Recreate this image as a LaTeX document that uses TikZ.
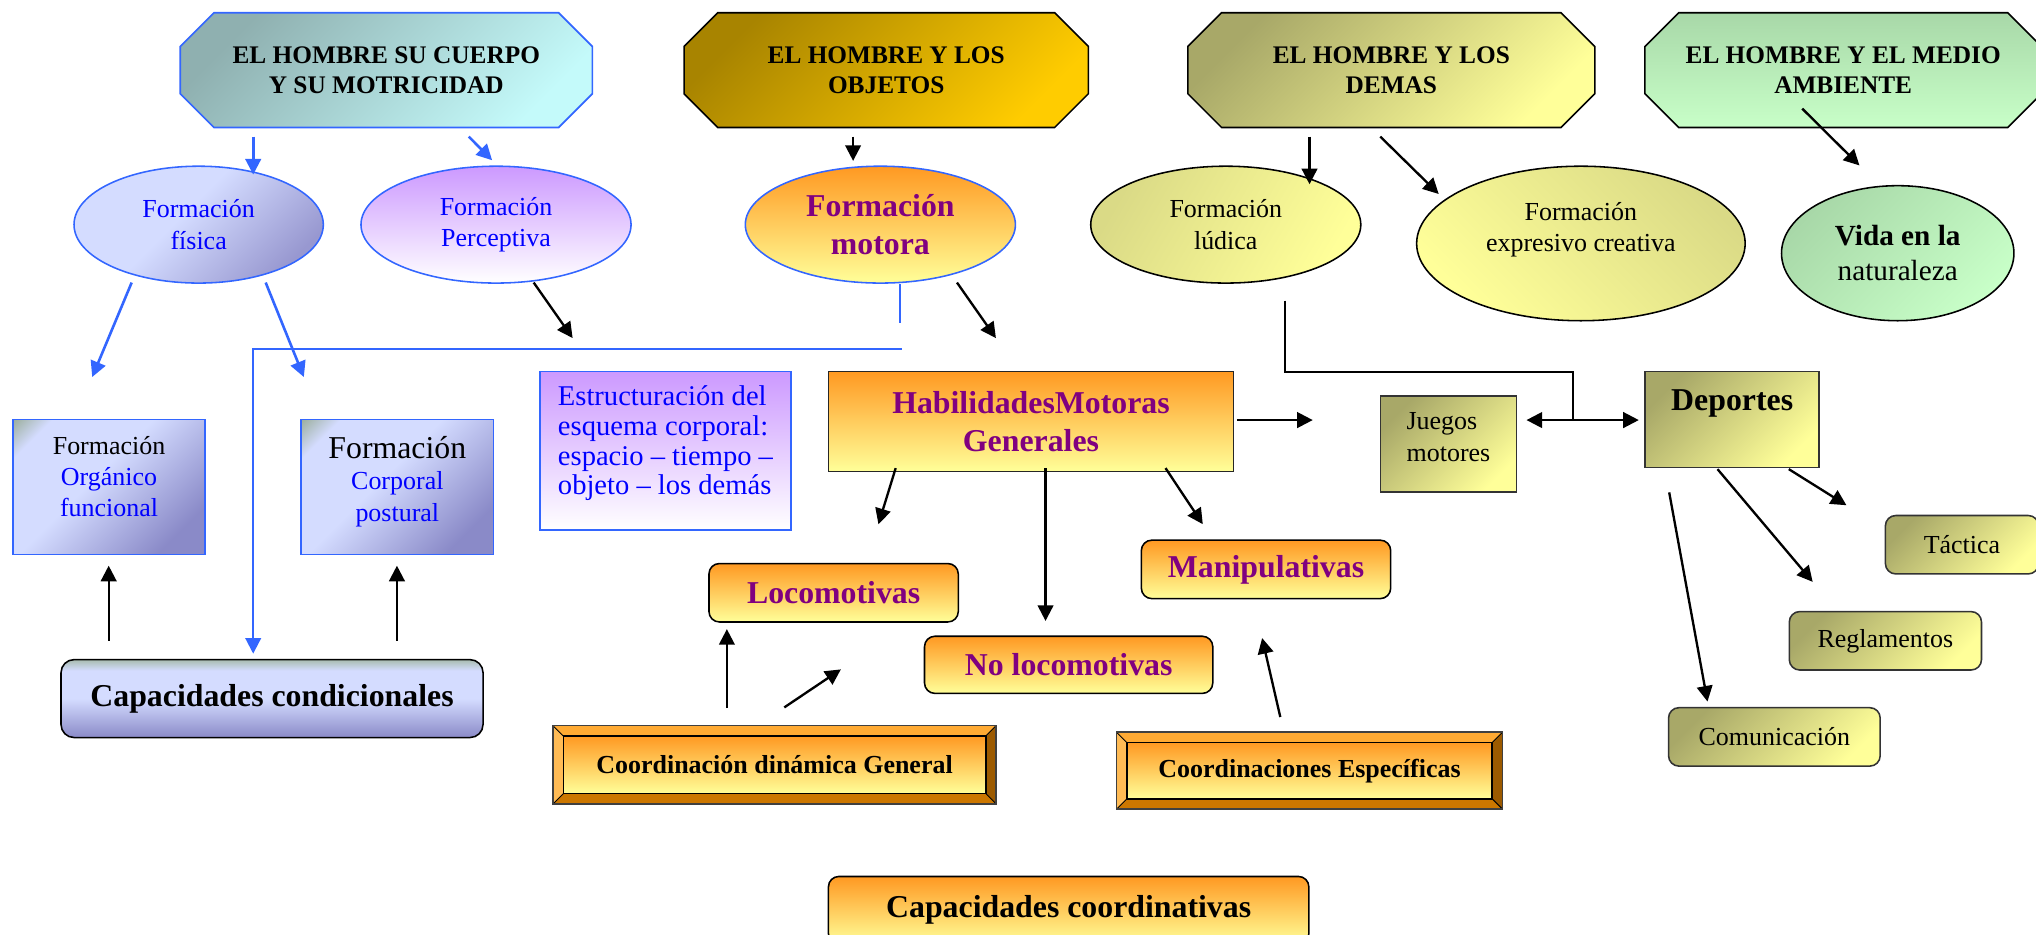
\documentclass[tikz,border=0pt]{standalone}
\usepackage{fontspec}
\setmainfont{Liberation Serif}
\usetikzlibrary{shapes.geometric,arrows.meta,calc,backgrounds}

\definecolor{bord}{HTML}{3366FF}
\definecolor{purp}{HTML}{800080}
\definecolor{txtblue}{HTML}{0000FF}
\definecolor{orA}{HTML}{FF9922}
\definecolor{orB}{HTML}{FFFF99}
\definecolor{olA}{HTML}{A8A868}
\definecolor{olB}{HTML}{FFFF99}
\definecolor{olC}{HTML}{DADA86}
\definecolor{cyA}{HTML}{8FB0B0}
\definecolor{cyB}{HTML}{C4FAFA}
\definecolor{goA}{HTML}{A88400}
\definecolor{goB}{HTML}{FFCC00}
\definecolor{grA}{HTML}{A8D8A8}
\definecolor{grB}{HTML}{C8FFC8}
\definecolor{blA}{HTML}{D4DCFF}
\definecolor{blB}{HTML}{8A8AC8}
\definecolor{blC}{HTML}{98AC98}
\definecolor{ccTop}{HTML}{A8BCB0}
\definecolor{fisB}{HTML}{9898D0}
\definecolor{viA}{HTML}{CC99FF}
\definecolor{bvtop}{HTML}{FFAA33}
\definecolor{bvleft}{HTML}{FFBB55}
\definecolor{bvright}{HTML}{9C5A00}
\definecolor{bvbot}{HTML}{CC7700}

\pgfdeclareverticalshading{blueboxsh}{100bp}{color(0bp)=(blB); color(25bp)=(blB); color(55bp)=(blA); color(77bp)=(blA); color(86bp)=(blC); color(100bp)=(blC)}
\pgfdeclareverticalshading{ccondsh}{100bp}{color(0bp)=(blB); color(25bp)=(blB); color(50bp)=(blA); color(68bp)=(blA); color(75bp)=(ccTop); color(100bp)=(ccTop)}
\pgfdeclareverticalshading{fissh}{100bp}{color(0bp)=(fisB); color(25bp)=(fisB); color(55bp)=(blA); color(100bp)=(blA)}

\newcommand{\ftReg}{\fontsize{20}{24}\selectfont}
\newcommand{\ftBig}{\bfseries\fontsize{24.5}{29.5}\selectfont}
\newcommand{\ftHdr}{\bfseries\fontsize{19.5}{23}\selectfont}
\newcommand{\ftEst}{\fontsize{22}{23}\selectfont}
\newcommand{\ftMidB}{\bfseries\fontsize{20}{24}\selectfont}
\newcommand{\ftVida}{\fontsize{22.5}{27}\selectfont}

\newcommand{\octpath}[2]{%
  \path[#2] ([xshift=26pt]#1.north west) -- ([xshift=-26pt]#1.north east) -- ([yshift=-26pt]#1.north east) -- ([yshift=26pt]#1.south east) -- ([xshift=-26pt]#1.south east) -- ([xshift=26pt]#1.south west) -- ([yshift=26pt]#1.south west) -- ([yshift=-26pt]#1.north west) -- cycle;}

\newcommand{\bevelbox}[1]{%
  \fill[bvtop] (#1.north west) -- (#1.north east) -- ([shift={(-8pt,-8pt)}]#1.north east) -- ([shift={(8pt,-8pt)}]#1.north west) -- cycle;
  \fill[bvleft] (#1.north west) -- ([shift={(8pt,-8pt)}]#1.north west) -- ([shift={(8pt,8pt)}]#1.south west) -- (#1.south west) -- cycle;
  \fill[bvright] (#1.north east) -- (#1.south east) -- ([shift={(-8pt,8pt)}]#1.south east) -- ([shift={(-8pt,-8pt)}]#1.north east) -- cycle;
  \fill[bvbot] (#1.south west) -- (#1.south east) -- ([shift={(-8pt,8pt)}]#1.south east) -- ([shift={(8pt,8pt)}]#1.south west) -- cycle;
  \shade[top color=orA, bottom color=orB, draw=black, line width=1.2pt] ([shift={(8pt,-8pt)}]#1.north west) rectangle ([shift={(-8pt,8pt)}]#1.south east);
  \draw[line width=0.7pt] (#1.north west) -- ([shift={(8pt,-8pt)}]#1.north west) (#1.north east) -- ([shift={(-8pt,-8pt)}]#1.north east) (#1.south west) -- ([shift={(8pt,8pt)}]#1.south west) (#1.south east) -- ([shift={(-8pt,8pt)}]#1.south east);
  \draw[line width=1.2pt, draw=black!75] (#1.north west) rectangle (#1.south east);}

\begin{document}
\begin{tikzpicture}[x=1pt,y=-1pt,
  every node/.style={inner sep=0pt, align=center},
  arr/.style={line width=1.8pt, -{Triangle[length=12pt,width=12pt]}},
  barr/.style={arr, draw=bord, line width=2pt},
  hdr/.style={rectangle, font=\ftHdr, minimum height=88pt},
  ellB/.style={ellipse, draw=bord, line width=1.2pt},
  ellK/.style={ellipse, draw=black, line width=1.2pt},
  bluebox/.style={rectangle, draw=bord, line width=1.3pt, shade, shading=blueboxsh, shading angle=45, minimum width=148pt, minimum height=104pt, font=\ftReg},
  orround/.style={rectangle, rounded corners=8pt, draw=black, line width=1.2pt, shade, top color=orA, bottom color=orB, font=\ftBig, text=purp},
  olrect/.style={rectangle, draw=black!80, line width=1.2pt, shade, top color=olA, bottom color=olB, shading angle=45},
  olround/.style={olrect, rounded corners=8pt, font=\ftReg}
]
\useasboundingbox (0,0) rectangle (1568,720);

% headers
\node[hdr, minimum width=317pt] (h1) at (297.5,54) {EL HOMBRE SU CUERPO\\Y SU MOTRICIDAD};
\node[hdr, minimum width=311pt] (h2) at (682.5,54) {EL HOMBRE Y LOS\\OBJETOS};
\node[hdr, minimum width=313pt] (h3) at (1071.5,54) {EL HOMBRE Y LOS\\DEMAS};
\node[hdr, minimum width=305pt] (h4) at (1419.5,54) {EL HOMBRE Y EL MEDIO\\AMBIENTE};

% ellipses
\node[ellB, shade, shading=fissh, shading angle=45, minimum width=192pt, minimum height=90pt, font=\ftReg, text=txtblue] (fis) at (153,173) {Formación\\física};
\node[ellB, shade, top color=viA, bottom color=white, minimum width=208pt, minimum height=90pt, font=\ftReg, text=txtblue] (per) at (382,173) {Formación\\Perceptiva};
\node[ellB, shade, top color=orA, bottom color=orB, minimum width=208pt, minimum height=90pt, font=\ftBig, text=purp] (mot) at (678,173) {Formación\\motora};
\node[ellK, shade, top color=olC, bottom color=olB, shading angle=60, minimum width=208pt, minimum height=90pt, font=\ftReg] (lud) at (944,173) {Formación\\lúdica};
\node[ellK, shade, top color=olC, bottom color=olB, shading angle=-45, minimum width=253pt, minimum height=119pt, font=\ftReg, text depth=25pt] (exp) at (1217.5,187.5) {Formación\\expresivo creativa};
\node[ellK, shade, top color=grA, bottom color=grB, shading angle=45, minimum width=179pt, minimum height=104pt, font=\ftVida] (vida) at (1461.5,195) {\textbf{Vida en la}\\naturaleza};

% third row
\node[bluebox, text depth=16pt] (org) at (84,375) {Formación\\\textcolor{txtblue}{Orgánico}\\\textcolor{txtblue}{funcional}};
\node[bluebox, text depth=12.5pt] (cor) at (306,375) {{\fontsize{24.5}{25}\selectfont Formación}\\\textcolor{txtblue}{Corporal}\\\textcolor{txtblue}{postural}};
\node[rectangle, draw=bord, line width=1.3pt, shade, top color=viA, bottom color=white, minimum width=193pt, minimum height=122pt, font=\ftEst, text=txtblue, align=left, text depth=16pt] (est) at (512.5,347) {Estructuración del\\esquema corporal:\\espacio – tiempo –\\objeto – los demás};
\node[rectangle, draw=black!85, line width=1.2pt, shade, top color=orA, bottom color=orB, minimum width=312pt, minimum height=77pt, font=\ftBig, text=purp] (hab) at (794,324.5) {HabilidadesMotoras\\Generales};
\node[olrect, minimum width=105pt, minimum height=74pt, align=left, font=\ftReg, text depth=11pt] (jue) at (1115.5,342) {Juegos\\motores};
\node[olrect, minimum width=134pt, minimum height=74pt, font=\ftBig, text depth=29pt] (dep) at (1334,323) {Deportes};
\node[olround, minimum width=118pt, minimum height=45pt] (tac) at (1511,419.5) {Táctica};
\node[olround, minimum width=148pt, minimum height=45pt] (reg) at (1452,493.5) {Reglamentos};
\node[olround, minimum width=163pt, minimum height=45pt] (com) at (1366.5,567.5) {Comunicación};

% fourth row
\node[orround, minimum width=192pt, minimum height=45pt] (loc) at (642,456.5) {Locomotivas};
\node[orround, minimum width=192pt, minimum height=45pt] (man) at (975,438.5) {Manipulativas};
\node[orround, minimum width=222pt, minimum height=44pt] (nol) at (823,512) {No locomotivas};
\node[font=\ftMidB, minimum width=341pt, minimum height=60pt] (cdg) at (596.5,589) {Coordinación dinámica General};
\node[font=\ftMidB, minimum width=297pt, minimum height=59pt] (ces) at (1008.5,593.5) {Coordinaciones Específicas};
\node[rectangle, rounded corners=10pt, draw=black, line width=1.2pt, shade, shading=ccondsh, minimum width=325pt, minimum height=60pt, font=\ftBig] (ccond) at (209.5,538) {Capacidades condicionales};
\node[orround, text=black, minimum width=370pt, minimum height=52pt] (ccoord) at (823,701) {Capacidades coordinativas};

\begin{scope}[on background layer]
  \octpath{h1}{shade, top color=cyA, bottom color=cyB, shading angle=45, draw=bord, line width=1.3pt}
  \octpath{h2}{shade, top color=goA, bottom color=goB, shading angle=45, draw=black, line width=1.2pt}
  \octpath{h3}{shade, top color=olA, bottom color=olB, shading angle=45, draw=black, line width=1.2pt}
  \octpath{h4}{shade, top color=grA, bottom color=grB, draw=black, line width=1.2pt}
  \bevelbox{cdg}
  \bevelbox{ces}
\end{scope}

% connectors
\draw[barr] ($(h1.south)+(-102.5,7)$) -- ($(fis.north)+(42,7)$);
\draw[barr] ($(h1.south)+(63.5,7)$) -- ($(per.north)+(-3,-4)$);
\draw[arr] ($(h2.south)+(-25.5,7)$) -- ($(mot.north)+(-21,-3.5)$);
\draw[arr] ($(h3.south)+(-63,7)$) -- ($(lud.north)+(64.5,14.5)$);
\draw[arr] ($(h3.south)+(-8.5,7)$) -- ($(exp.north)+(-109.5,22)$);
\draw[arr] ($(h4.south)+(-31.5,-14.5)$) -- ($(vida.north)+(-29.5,-15)$);
\draw[barr] ($(fis.south)+(-51.6,-1)$) -- ($(org.north)+(-13,-32)$);
\draw[barr] ($(fis.south)+(51.6,-1)$) -- ($(cor.north)+(-72,-32)$);
\draw[arr] ($(per.south)+(29,-1)$) -- ($(est.north)+(-71.5,-25)$);
\draw[arr] ($(mot.south)+(59,-1)$) -- ($(hab.north)+(-27,-25)$);
\draw[draw=bord, line width=1.5pt] ($(mot.south)+(15,0)$) -- ($(mot.south)+(15,30)$);
\draw[barr, line width=1.6pt] ($(mot.south)+(16.6,50)$) -| ($(ccond.north)+(-14.5,-4)$);
\draw[arr] ($(hab.east)+(2,-1)$) -- ($(jue.west)+(-51.4,-18.5)$);
\draw[arr, {Triangle[length=12pt,width=12pt]}-{Triangle[length=12pt,width=12pt]}] ($(jue.east)+(7,-18.5)$) -- ($(dep.west)+(-4.3,0.5)$);
\draw[line width=1.2pt] ($(lud.south)+(45.6,13)$) |- ($(dep.west)+(-55,-36.3)$) -- ($(dep.west)+(-55,0.5)$);
\draw[arr] ($(dep.south)+(43.6,0.7)$) -- ($(tac.north)+(-89,-7.3)$);
\draw[arr] ($(dep.south)+(-11.3,0.7)$) -- ($(reg.north)+(-56,-22.3)$);
\draw[arr] ($(dep.south)+(-48.5,18.6)$) -- ($(com.north)+(-51.5,-4.1)$);
\draw[arr] ($(hab.south)+(-104.2,-3.1)$) -- ($(loc.north)+(34.5,-29.7)$);
\draw[arr] ($(hab.south)+(11.2,-3.1)$) -- ($(nol.north)+(-17.8,-11.2)$);
\draw[arr] ($(hab.south)+(103.6,-3.1)$) -- ($(man.north)+(-48.7,-11.7)$);
\draw[arr] ($(cdg.north)+(-36.7,-13.5)$) -- ($(loc.south)+(-82.2,4.9)$);
\draw[arr] ($(cdg.north)+(7.5,-14)$) -- ($(nol.west)+(-63.8,3.5)$);
\draw[arr] ($(ces.north)+(-22.5,-11.6)$) -- ($(man.south)+(-3,29.8)$);
\draw[arr] ($(ccond.north)+(-125.8,-14)$) -- ($(org.south)+(-0.3,8)$);
\draw[arr] ($(ccond.north)+(96.2,-14)$) -- ($(cor.south)+(-0.3,8)$);
\end{tikzpicture}
\end{document}
